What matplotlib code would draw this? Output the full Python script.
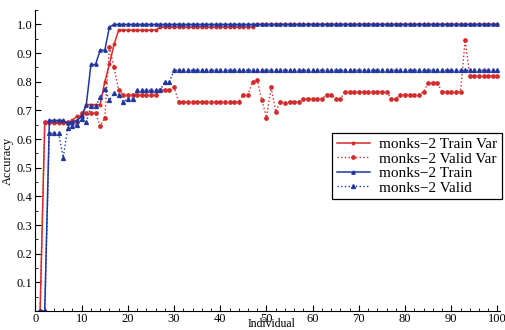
import numpy as np
import matplotlib
matplotlib.use("Agg")
import matplotlib.pyplot as plt
from matplotlib.ticker import MultipleLocator

plt.rcParams['font.family'] = ['Liberation Serif', 'DejaVu Serif']

individual = np.arange(1, 101)

train_var = ([0.0] + [0.655] * 6 + [0.665, 0.68, 0.68] + [0.72] * 4 +
             [0.80, 0.86, 0.93] + [0.98] * 9 + [0.99] * 21 + [1.0] * 53)

valid_var = ([0.0] + [0.66] * 8 + [0.69] * 4 + [0.645, 0.675, 0.92, 0.85, 0.77] +
             [0.755] * 8 + [0.77] * 3 + [0.78] + [0.73] * 14 +
             [0.755, 0.755, 0.80, 0.805, 0.735, 0.675, 0.78, 0.695, 0.73, 0.725] +
             [0.73] * 3 + [0.74] * 5 + [0.755] * 2 + [0.74] * 2 + [0.765] * 10 +
             [0.74] * 2 + [0.755] * 5 + [0.765] + [0.795] * 3 + [0.765] * 5 +
             [0.945] + [0.82] * 7)

train = ([0.0, 0.0] + [0.665] * 4 + [0.655, 0.66, 0.665, 0.68, 0.72] +
         [0.86] * 2 + [0.91] * 2 + [0.99] + [1.0] * 84)

valid = ([0.0, 0.0] + [0.62] * 3 + [0.535, 0.64, 0.645, 0.65, 0.67, 0.66] +
         [0.715] * 2 + [0.745, 0.775, 0.735, 0.76, 0.755, 0.73] + [0.74] * 2 +
         [0.77] * 6 + [0.80] * 2 + [0.84] * 71)

series_labels = ['monks\u22122 Train Var', 'monks\u22122 Valid Var',
                 'monks\u22122 Train', 'monks\u22122 Valid']

red = '#d42a2a'
blue = '#22379e'

fig = plt.figure(figsize=(5.06, 3.30), dpi=100)
ax = fig.add_axes([35.5 / 506, 19 / 330, 464.3 / 506, 301 / 330])

ax.plot(individual, train_var, color=red, lw=1.1, ls='-', marker='o', ms=1.8,
        label=series_labels[0])
ax.plot(individual, valid_var, color=red, lw=1.0, ls=':', marker='o', ms=2.4,
        label=series_labels[1])
ax.plot(individual, train, color=blue, lw=1.1, ls='-', marker='^', ms=2.4,
        label=series_labels[2])
ax.plot(individual, valid, color=blue, lw=1.0, ls=':', marker='^', ms=2.8,
        label=series_labels[3])

ax.set_xlim(0, 100.5)
ax.set_ylim(0, 1.05)
ax.xaxis.set_major_locator(MultipleLocator(10))
ax.xaxis.set_minor_locator(MultipleLocator(2))
ax.set_yticks(np.round(np.arange(0.1, 1.01, 0.1), 1))
ax.yaxis.set_minor_locator(MultipleLocator(0.05))
ax.tick_params(which='both', direction='in', labelsize=9, pad=2)
ax.tick_params(axis='x', which='both', pad=1.5)
ax.tick_params(which='major', length=4, width=0.8)
ax.tick_params(which='minor', length=2, width=0.6)

for side in ('top', 'right'):
    ax.spines[side].set_visible(False)

ax.set_ylabel('Accuracy', fontsize=9, labelpad=2)
fig.text(272 / 506, 0.0, 'Individual', fontsize=8.5,
         ha='center', va='bottom')

leg = ax.legend(loc='upper left',
                bbox_to_anchor=(332 / 506, (330 - 133) / 330),
                bbox_transform=fig.transFigure,
                fontsize=11, frameon=True, fancybox=False, borderpad=0.3,
                labelspacing=0.05, handlelength=2.2, handletextpad=0.6,
                borderaxespad=0)
leg.get_frame().set_edgecolor('black')
leg.get_frame().set_linewidth(0.9)
leg.get_frame().set_alpha(1.0)

fig.savefig('out.png', dpi=100)
